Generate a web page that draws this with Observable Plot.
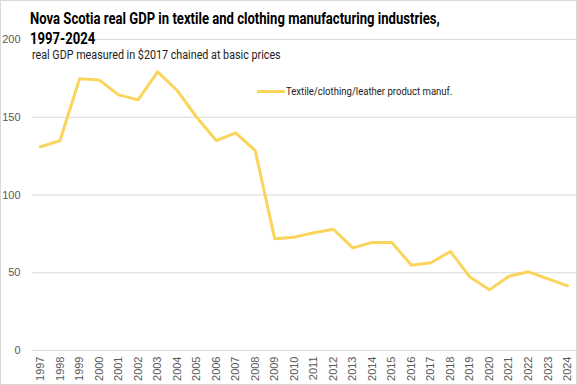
<!DOCTYPE html>
<html>
<head>
<meta charset="utf-8">
<script src="https://cdn.jsdelivr.net/npm/d3@7"></script>
<script src="https://cdn.jsdelivr.net/npm/@observablehq/plot@0.6"></script>
<style>
  html, body { margin: 0; padding: 0; background: #fff; }
  #wrap { position: relative; width: 577px; height: 385px; overflow: hidden; }
  #border { position: absolute; left: 0; top: 0; width: 575px; height: 383px; border: 1px solid #d9d9d9; pointer-events: none; }
  #title { position: absolute; left: 30px; top: 8px; font-family: "Roboto", sans-serif; font-weight: bold; font-size: 17px; line-height: 20px; color: #000; white-space: nowrap; transform: scaleX(0.77); transform-origin: left top; }
  #subtitle { position: absolute; left: 32px; top: 47px; font-family: "Roboto", sans-serif; font-size: 12.5px; color: #222; white-space: nowrap; transform: scaleX(0.86); transform-origin: left top; }
  #legend { position: absolute; left: 257px; top: 84px; font-family: "Roboto", sans-serif; font-size: 11.5px; color: #222; white-space: nowrap; display: flex; align-items: center; }
  #legend .sw { width: 28px; height: 3px; background: #FAD55C; margin-right: 1px; }
  #legend .lt { display: inline-block; transform: scaleX(0.83); transform-origin: left center; }
  svg { display: block; }
</style>
</head>
<body>
<div id="wrap">
  <div id="chart"></div>
  <div id="title">Nova Scotia real GDP in textile and clothing manufacturing industries,<br>1997-2024</div>
  <div id="subtitle">real GDP measured in $2017 chained at basic prices</div>
  <div id="legend"><span class="sw"></span><span class="lt">Textile/clothing/leather product manuf.</span></div>
  <div id="border"></div>
</div>
<script>
const years = [1997,1998,1999,2000,2001,2002,2003,2004,2005,2006,2007,2008,2009,2010,2011,2012,2013,2014,2015,2016,2017,2018,2019,2020,2021,2022,2023,2024];
const gdp = [131, 135, 174.7, 174, 164.4, 161.2, 179.2, 167.2, 150, 135, 140, 128.6, 71.8, 72.9, 75.7, 78, 66, 69.5, 69.5, 54.8, 56.4, 63.7, 47.2, 39, 47.8, 50.6, 46.1, 41.6];
const yTicks = [0, 50, 100, 150, 200];
const seriesName = "Textile/clothing/leather product manuf.";

const data = years.map((y, i) => ({year: y, value: gdp[i], series: seriesName}));

const chart = Plot.plot({
  width: 577,
  height: 385,
  marginTop: 39,
  marginLeft: 32,
  marginRight: 1,
  marginBottom: 35,
  style: {fontFamily: "Liberation Sans, Arial, sans-serif", fontSize: "11px", color: "#595959", background: "transparent"},
  x: {type: "linear", domain: [1996.59, 2024.46], label: null},
  y: {domain: [0, 200], ticks: yTicks, label: null},
  marks: [
    Plot.gridY(yTicks, {stroke: "#d9d9d9", strokeOpacity: 1, strokeWidth: 1}),
    Plot.axisY(yTicks, {tickSize: 0, tickPadding: 12, label: null, fill: "#595959"}),
    Plot.axisX(years, {tickSize: 0, tickPadding: 6, tickRotate: -90, tickFormat: d => String(d), label: null, fill: "#595959"}),
    Plot.line(data, {x: "year", y: "value", stroke: "#FAD55C", strokeWidth: 3, strokeLinejoin: "round"})
  ]
});
document.getElementById("chart").appendChild(chart);
</script>
</body>
</html>
